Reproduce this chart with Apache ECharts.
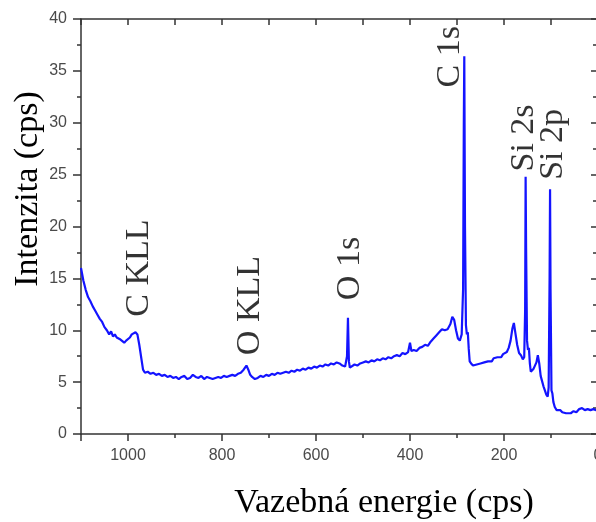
<!DOCTYPE html>
<html>
<head>
<meta charset="utf-8">
<script src="https://cdn.jsdelivr.net/npm/echarts@6/dist/echarts.min.js"></script>
<style>
  html, body { margin: 0; padding: 0; background: #fff; }
  #main { width: 596px; height: 522px; }
</style>
</head>
<body>
<div id="main"></div>
<script>
// vazebna energie (eV)
var energie = [
    1100, 1095, 1090, 1085, 1080, 1075, 1070, 1065, 1060, 1055, 1050, 1045, 1040, 1036, 1032, 1028,
    1024, 1020, 1016, 1012, 1008, 1004, 1000, 996, 992, 988, 984, 980, 976, 972, 968, 964,
    958, 952, 946, 940, 934, 928, 922, 916, 910, 904, 898, 892, 886, 880, 874, 868,
    862, 856, 850, 844, 838, 832, 826, 820, 814, 808, 802, 796, 790, 784, 778, 772,
    766, 760, 754, 748, 744, 740, 736, 730, 724, 718, 712, 706, 700, 694, 688, 682,
    676, 670, 664, 658, 652, 646, 640, 634, 628, 622, 616, 610, 604, 598, 592, 586,
    580, 574, 568, 562, 556, 550, 544, 538, 534, 532, 530, 528, 524, 518, 512, 506,
    500, 494, 488, 482, 476, 470, 464, 458, 452, 446, 440, 434, 428, 422, 416, 410,
    404, 400, 397, 392, 386, 380, 374, 368, 362, 356, 350, 344, 338, 332, 326, 320,
    314, 310, 306, 302, 298, 294, 290, 287, 285.5, 284.5, 283, 281, 279, 277, 275, 273,
    270, 266, 262, 258, 254, 250, 246, 242, 238, 234, 230, 226, 222, 218, 214, 210,
    206, 202, 198, 194, 190, 186, 182, 179, 176, 172, 168, 164, 160, 157, 155, 154,
    153, 151, 149, 147, 145, 143, 140, 137, 134, 131, 128, 125, 122, 119, 116, 113,
    110, 107, 105, 103, 102, 101, 99, 97, 95, 92, 88, 84, 80, 76, 72, 68,
    64, 58, 52, 46, 40, 34, 28, 22, 16, 10, 4, 0
];
// intenzita (cps)
var intenzita = [
    16.0, 14.8, 13.9, 13.2, 12.8, 12.3, 11.9, 11.5, 11.1, 10.8, 10.3, 10.0, 9.6, 9.9, 9.4, 9.6,
    9.3, 9.4, 9.1, 9.0, 8.8, 9.0, 9.1, 9.3, 9.6, 9.7, 9.8, 9.6, 8.6, 7.4, 6.2, 5.9,
    6.0, 5.8, 5.9, 5.7, 5.8, 5.6, 5.7, 5.5, 5.6, 5.4, 5.5, 5.3, 5.5, 5.6, 5.3, 5.4,
    5.7, 5.5, 5.4, 5.6, 5.3, 5.5, 5.4, 5.3, 5.4, 5.5, 5.4, 5.6, 5.5, 5.6, 5.7, 5.6,
    5.8, 5.9, 6.2, 6.6, 6.2, 5.7, 5.5, 5.3, 5.4, 5.6, 5.5, 5.7, 5.6, 5.8, 5.7, 5.9,
    5.8, 5.9, 6.0, 5.9, 6.1, 6.0, 6.2, 6.1, 6.3, 6.2, 6.4, 6.3, 6.5, 6.4, 6.6, 6.5,
    6.7, 6.6, 6.8, 6.7, 6.9, 6.8, 6.6, 6.5, 7.5, 11.2, 7.0, 6.4, 6.5, 6.7, 6.6, 6.8,
    6.9, 7.0, 6.9, 7.1, 7.0, 7.2, 7.1, 7.3, 7.2, 7.4, 7.3, 7.5, 7.6, 7.5, 7.8, 7.7,
    7.9, 8.8, 8.0, 8.1, 8.0, 8.3, 8.4, 8.6, 8.5, 8.9, 9.2, 9.5, 9.8, 10.1, 10.0, 10.1,
    10.6, 11.3, 11.0, 10.0, 9.2, 9.0, 9.6, 14.0, 30.0, 36.4, 20.0, 10.5, 9.6, 9.8, 8.2, 7.0,
    6.8, 6.6, 6.5, 6.7, 6.6, 6.8, 6.7, 6.9, 6.8, 7.0, 7.1, 7.0, 7.3, 7.2, 7.4, 7.5,
    7.4, 7.7, 7.8, 7.9, 8.3, 9.0, 10.2, 10.7, 9.8, 8.6, 7.8, 7.6, 7.2, 7.4, 12.0, 24.8,
    18.0, 9.0, 8.1, 8.3, 6.8, 6.0, 6.1, 6.3, 6.2, 6.9, 7.6, 6.8, 5.6, 5.1, 4.6, 4.2,
    3.8, 3.6, 4.5, 15.0, 23.6, 14.0, 4.2, 3.9, 3.1, 2.6, 2.3, 2.2, 2.3, 2.1, 2.2, 2.0,
    2.1, 2.0, 2.2, 2.1, 2.4, 2.5, 2.3, 2.4, 2.3, 2.4, 2.3, 2.4
];
// popisky piku: text, energie a intenzita spodniho okraje popisku
var popisky = ['C KLL', 'O KLL', 'O 1s', 'C 1s', 'Si 2s', 'Si 2p'];
var popiskyE = [977, 740, 527, 314, 157, 96];
var popiskyI = [11.3, 7.6, 12.9, 33.4, 25.3, 24.5];

var spektrum = energie.map(function (e, i) {
    return [e, intenzita[i]];
});
var znacky = popisky.map(function (t, i) {
    return {name: t, value: [popiskyE[i], popiskyI[i]]};
});

var osa = {color: '#333', width: 1.5};
var serif = '"Liberation Serif", "DejaVu Serif", serif';
var sans = '"Liberation Sans", Arial, sans-serif';

var myChart = echarts.init(document.getElementById('main'));
myChart.setOption({
    animation: false,
    grid: {
        left: 81,
        top: 19,
        right: -2,
        bottom: 88,
        outerBoundsMode: 'none'
    },
    xAxis: [{
        type: 'value',
        inverse: true,
        min: 0,
        max: 1100,
        interval: 200,
        position: 'bottom',
        axisLine: {onZero: false, lineStyle: osa},
        axisTick: {length: 7, lineStyle: osa},
        minorTick: {show: true, splitNumber: 2, length: 4, lineStyle: osa},
        axisLabel: {
            margin: 14,
            color: '#4a4a4a',
            fontSize: 16,
            fontFamily: sans,
            showMaxLabel: false,
            formatter: function (v) {
                return String(v);
            }
        },
        splitLine: {show: false}
    }, {
        type: 'value',
        inverse: true,
        min: 0,
        max: 1100,
        interval: 100,
        position: 'top',
        axisLine: {onZero: false, lineStyle: osa},
        axisTick: {inside: true, length: 6, lineStyle: osa},
        axisLabel: {show: false},
        splitLine: {show: false}
    }],
    yAxis: [{
        type: 'value',
        min: 0,
        max: 40,
        interval: 5,
        position: 'left',
        axisLine: {show: true, onZero: false, lineStyle: osa},
        axisTick: {show: true, length: 8, lineStyle: osa},
        minorTick: {show: true, splitNumber: 2, length: 4, lineStyle: osa},
        axisLabel: {
            margin: 14,
            color: '#4a4a4a',
            fontSize: 16,
            fontFamily: sans
        },
        splitLine: {show: false}
    }, {
        type: 'value',
        min: 0,
        max: 40,
        interval: 5,
        position: 'right',
        axisLine: {show: true, onZero: false, lineStyle: osa},
        axisTick: {show: true, inside: true, length: 7, lineStyle: osa},
        minorTick: {show: true, splitNumber: 2, length: 5, lineStyle: osa},
        axisLabel: {show: false},
        splitLine: {show: false}
    }],
    graphic: [{
        type: 'text',
        x: 384,
        y: 503,
        style: {
            text: 'Vazebná energie (cps)',
            font: '34px ' + serif,
            fill: '#000',
            align: 'center',
            verticalAlign: 'middle'
        }
    }, {
        type: 'text',
        x: 28,
        y: 189,
        rotation: Math.PI / 2,
        style: {
            text: 'Intenzita (cps)',
            font: '34px ' + serif,
            fill: '#000',
            align: 'center',
            verticalAlign: 'middle'
        }
    }],
    series: [{
        type: 'line',
        xAxisIndex: 0,
        yAxisIndex: 0,
        data: spektrum,
        showSymbol: false,
        lineStyle: {color: '#1414ff', width: 2.2},
        silent: true
    }, {
        type: 'scatter',
        xAxisIndex: 0,
        yAxisIndex: 0,
        data: znacky,
        symbolSize: 0,
        silent: true,
        label: {
            show: true,
            position: [0, 0],
            rotate: 90,
            align: 'left',
            verticalAlign: 'middle',
            formatter: '{b}',
            color: '#000',
            fontSize: 34,
            fontFamily: serif
        }
    }]
});
</script>
</body>
</html>
